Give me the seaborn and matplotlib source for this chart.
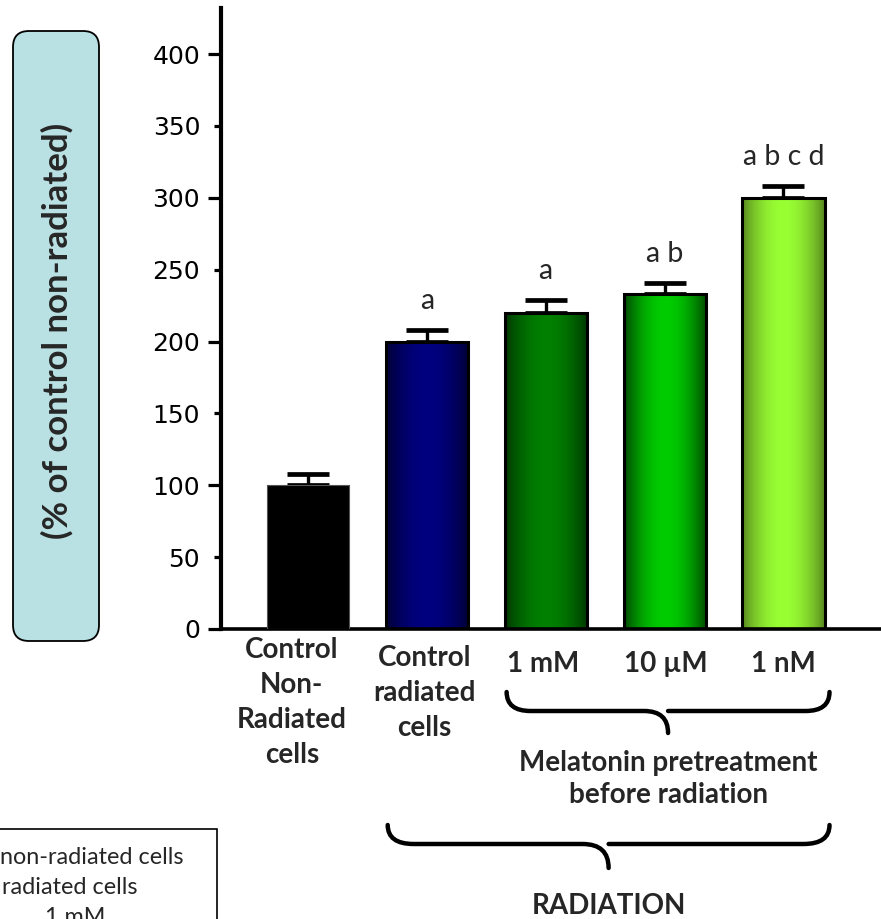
import numpy as np
import pandas as pd
import matplotlib
matplotlib.use("Agg")
import matplotlib.pyplot as plt
import seaborn as sns
from matplotlib.patches import FancyBboxPatch, Rectangle, PathPatch
from matplotlib.path import Path
from matplotlib.colors import to_rgb
from matplotlib.transforms import ScaledTranslation

# ---------------- data ----------------
categories = ["Control\nNon-\nRadiated\ncells", "Control\nradiated\ncells", "1 mM", "10 µM", "1 nM"]
values = [100, 200, 220, 233, 300]
errors = [8, 8, 9, 8, 8]
letters = ["", "a", "a", "a b", "a b c d"]
legend_visible = ["non-radiated cells", "radiated cells", "1 mM"]
ytick_major = [0, 100, 200, 300, 400]
ytick_minor = [50, 150, 250, 350]
ylabel_text = "(% of control non-radiated)"
group1_text = "Melatonin pretreatment\nbefore radiation"
group2_text = "RADIATION"

# colours: (edge colour, centre colour) of each bar's horizontal gradient
bar_edge_cols = ["#000000", "#000030", "#003300", "#004000", "#55821e"]
bar_mid_cols = ["#000000", "#000080", "#008000", "#00cc00", "#99ff33"]

sns.set_theme(style="white")
plt.rcParams["font.family"] = ["DejaVu Sans"]

W, H = 881, 919
fig = plt.figure(figsize=(W / 100, H / 100), dpi=100)
ax = fig.add_axes([221 / W, 1 - 629 / H, 1 - 221 / W, (629 - 8) / H])

df = pd.DataFrame({"cat": categories, "val": values})
sns.barplot(data=df, x="cat", y="val", hue="cat", palette=bar_mid_cols, legend=False,
            width=0.69, edgecolor="black", linewidth=2.2, errorbar=None, ax=ax, zorder=3)

xlim = (-0.73, 4.82)
ylim = (0, 432)

# gradient fills
for i, p in enumerate(ax.patches):
    x0, w, h = p.get_x(), p.get_width(), p.get_height()
    t = np.linspace(-1, 1, 200)
    prof = np.cos(t * np.pi / 2) ** 0.8
    c_e, c_m = np.array(to_rgb(bar_edge_cols[i])), np.array(to_rgb(bar_mid_cols[i]))
    grad = c_e[None, :] + (c_m - c_e)[None, :] * prof[:, None]
    img = ax.imshow(grad[None, :, :], extent=[x0, x0 + w, 0, h], aspect="auto",
                    origin="lower", zorder=2, interpolation="bilinear")
    img.set_clip_path(p)
    p.set_facecolor("none")
    if i == 0:
        p.set_edgecolor("#555555")
        p.set_linewidth(0.8)

# upper error bars only
xs = np.arange(len(values))
ax.errorbar(xs, values, yerr=[np.zeros(len(values)), errors], fmt="none", ecolor="black",
            elinewidth=2.4, capsize=15, capthick=3.4, zorder=1)

# significance letters
for x, v, e, s in zip(xs, values, errors, letters):
    if s:
        ax.annotate(s, (x, v + e), xytext=(0, 15), textcoords="offset points",
                    ha="center", va="baseline", fontsize=20.5, family="Lato")

ax.set_xlim(*xlim)
ax.set_ylim(*ylim)
ax.set_xlabel("")
ax.set_ylabel("")

# y ticks
ax.set_yticks(ytick_major, [str(v) for v in ytick_major])
ax.set_yticks(ytick_minor, [str(v) for v in ytick_minor], minor=True)
ax.tick_params(axis="y", which="major", length=9.5, width=2.3, pad=5.5, labelsize=18,
               left=True, colors="black")
ax.tick_params(axis="y", which="minor", length=5, width=2.3, pad=10, labelsize=18,
               left=True, colors="black")

# x tick labels
ax.set_xticks(xs, categories)
ax.tick_params(axis="x", length=0, pad=0)
x_off_px = [-16, -2, -3, 1, 0]
y_off_px = [8, 16, 22, 22, 22]
for lab, dx, dy in zip(ax.get_xticklabels(), x_off_px, y_off_px):
    lab.set_fontfamily("Lato")
    lab.set_fontweight("bold")
    lab.set_fontsize(20)
    lab.set_linespacing(1.43)
    lab.set_transform(lab.get_transform() + ScaledTranslation(dx / 100, -dy / 100, fig.dpi_scale_trans))

for side in ["top", "right"]:
    ax.spines[side].set_visible(False)
ax.spines["left"].set_linewidth(3)
ax.spines["bottom"].set_linewidth(2.6)
ax.spines["left"].set_color("black")
ax.spines["bottom"].set_color("black")
ax.grid(False)

# braces
fig.canvas.draw()


def px_x(xd):
    return ax.transData.transform((xd, 0))[0]


def brace(x0, x1, ytop, ymid, ybot, r):
    xm = (x0 + x1) / 2
    verts = [(x0, ytop), (x0, ymid), (x0 + r, ymid), (xm - r, ymid), (xm, ymid), (xm, ybot),
             (xm, ymid), (xm + r, ymid), (x1 - r, ymid), (x1, ymid), (x1, ytop)]
    codes = [Path.MOVETO, Path.CURVE3, Path.CURVE3, Path.LINETO, Path.CURVE3, Path.CURVE3,
             Path.MOVETO, Path.CURVE3, Path.LINETO, Path.CURVE3, Path.CURVE3]
    verts = [(vx / 100, (H - vy) / 100) for vx, vy in verts]
    pp = PathPatch(Path(verts, codes), fill=False, lw=3.2, edgecolor="black",
                   transform=fig.dpi_scale_trans, capstyle="round")
    fig.patches.append(pp)


bw = ax.patches[0].get_width()
b1x0, b1x1 = px_x(2 - bw / 2) + 2, px_x(4 + bw / 2) + 5
brace(b1x0, b1x1, 692, 711, 733, 24)
b2x0, b2x1 = px_x(1 - bw / 2) + 2, px_x(4 + bw / 2) + 5
brace(b2x0, b2x1, 825, 844, 868, 26)

fig.text((b1x0 + b1x1) / 2 / W, 1 - 779 / H, group1_text, ha="center", va="center",
         fontsize=20, fontweight="bold", family="Lato", linespacing=1.3)
fig.text((b2x0 + b2x1) / 2 / W, 1 - 906 / H, group2_text, ha="center", va="center",
         fontsize=20, fontweight="bold", family="Lato")

# y label box
box = FancyBboxPatch((13 / 100, (H - 641) / 100), 86 / 100, 610 / 100,
                     boxstyle="round,pad=0,rounding_size=0.16", transform=fig.dpi_scale_trans,
                     facecolor="#b9e0e2", edgecolor="black", linewidth=1.3)
fig.patches.append(box)
fig.text(57 / W, 1 - 331 / H, ylabel_text, rotation=90, ha="center", va="center",
         fontsize=25, fontweight="bold", family="Lato")

# legend box (continues beyond the left and bottom edges, as in the original)
fig.patches.append(Rectangle((-0.5, -0.5), (217 + 50) / 100, (H - 829 + 50) / 100,
                             transform=fig.dpi_scale_trans, facecolor="white",
                             edgecolor="black", linewidth=1.2))
leg_x = [0, 2, 45]
leg_y = [857, 888, 918]
for txt, lx, ly in zip(legend_visible, leg_x, leg_y):
    fig.text(lx / W, 1 - ly / H, txt, ha="left", va="center", fontsize=16.8, family="Lato")

fig.savefig("out.png", dpi=100)
